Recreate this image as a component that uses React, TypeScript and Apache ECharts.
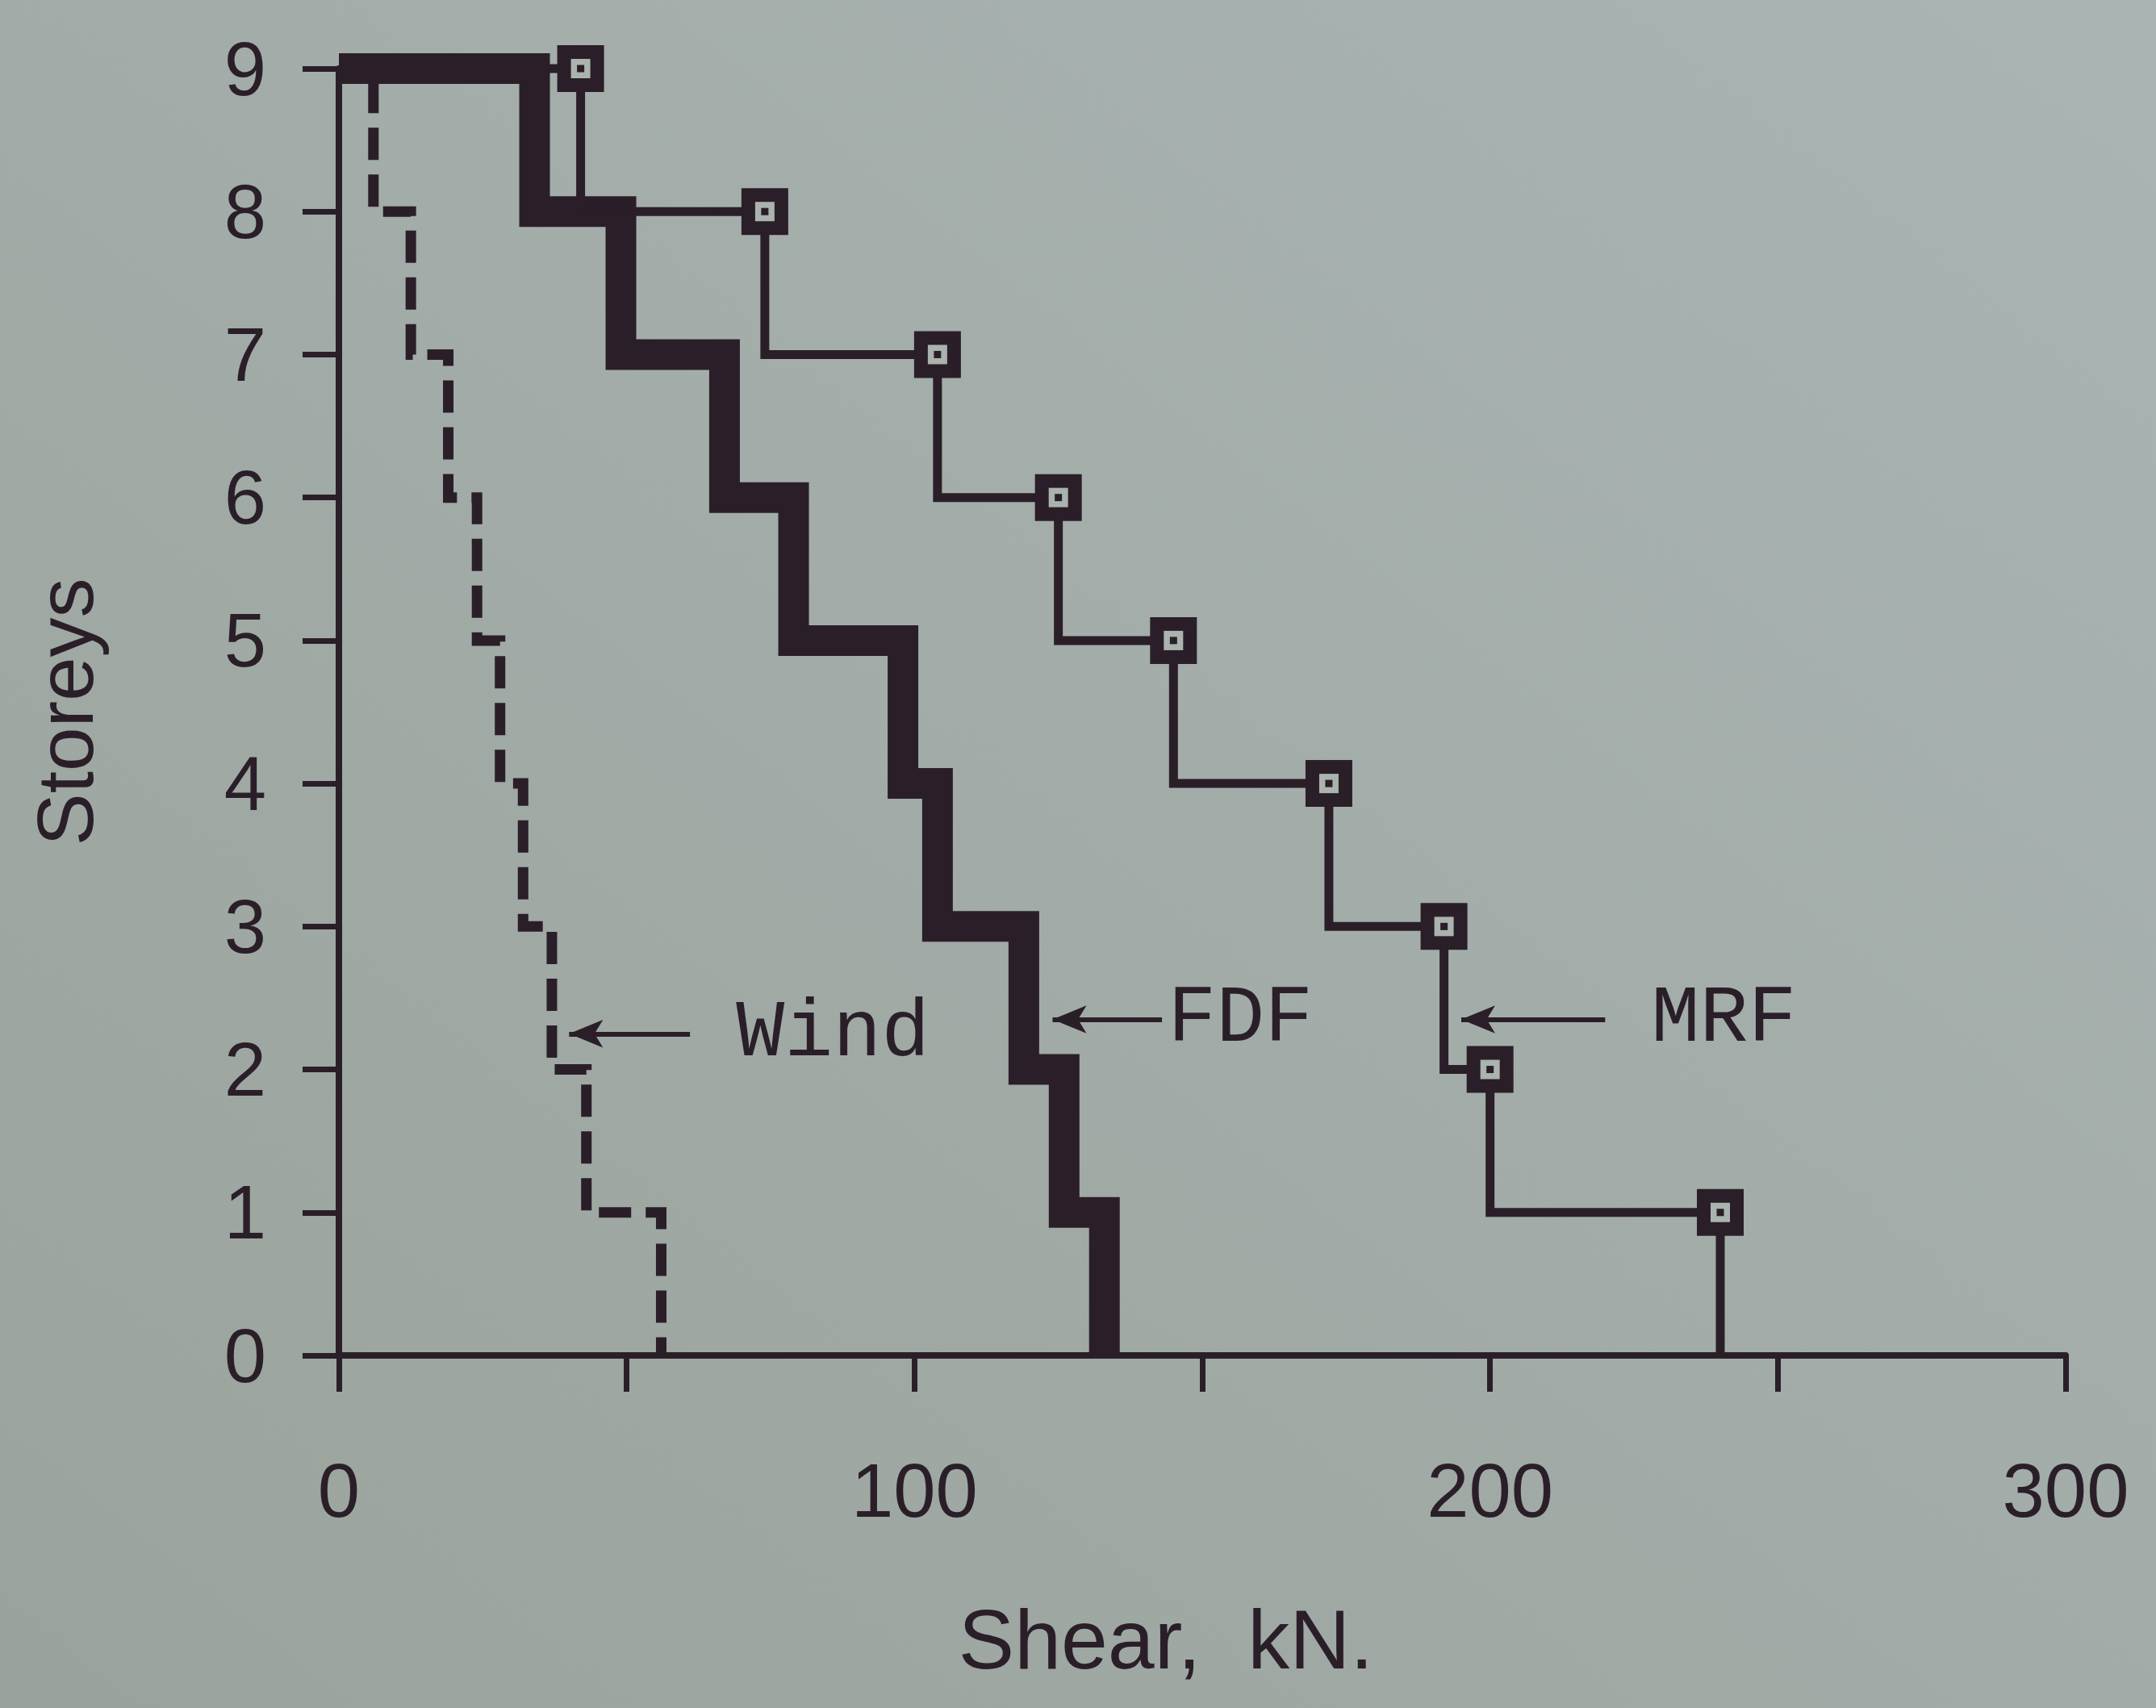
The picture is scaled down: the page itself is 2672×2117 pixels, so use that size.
import React, { useEffect, useRef } from 'react';
import * as echarts from 'echarts';

// ---- data ----
const storeys = [9, 8, 7, 6, 5, 4, 3, 2, 1];
const mrfShear = [42, 74, 104, 125, 145, 172, 192, 200, 240];
const fdfShear = [34, 49, 67, 79, 98, 104, 119, 126, 133];
const windShear = [6, 12.5, 19, 24, 28, 32, 37, 43, 56];
const xTickLabels = ['0', '100', '200', '300'];
const yTickLabels = ['0', '1', '2', '3', '4', '5', '6', '7', '8', '9'];
const annotationNames = ['Wind', 'FDF', 'MRF'];
const annotationLevels = [2.25, 2.35, 2.35];
const arrowTails = [61, 143, 220];
const arrowTips = [40, 124, 195];
const textStarts = [69, 144, 228];

const INK = '#2a1f29';
const PAPER = '#aab3ae';

function stepPoints(values: number[]): number[][] {
  const pts: number[][] = [[0, storeys[0]]];
  values.forEach((v, i) => {
    pts.push([v, storeys[i]]);
    pts.push([v, storeys[i] - 1]);
  });
  return pts;
}

const markerData = storeys.map((s, i) => [mrfShear[i], s]);

function markerLayer(name: string, size: number, color: string, z: number) {
  return {
    name,
    type: 'scatter',
    data: markerData,
    symbol: 'rect',
    symbolSize: size,
    clip: false,
    z,
    silent: true,
    itemStyle: { color, opacity: 1 },
  };
}

export default function App() {
  const ref = useRef<HTMLDivElement>(null);
  useEffect(() => {
    document.body.style.margin = '0';
    if (!ref.current) return;
    const chart = echarts.init(ref.current, null, { renderer: 'svg' });
    const option: any = {
      animation: false,
      backgroundColor: new echarts.graphic.LinearGradient(0, 1, 1, 0, [
        { offset: 0, color: '#9aa39b' },
        { offset: 1, color: '#aab4b4' },
      ]),
      grid: { left: 420, right: 112, top: 85, bottom: 437, containLabel: false },
      xAxis: {
        type: 'value',
        min: 0,
        max: 300,
        interval: 50,
        name: 'Shear,  kN.',
        nameLocation: 'middle',
        nameGap: 300,
        nameTextStyle: {
          fontFamily: 'Liberation Sans',
          fontSize: 104,
          color: INK,
          padding: [0, 90, 0, 0],
        },
        axisLine: { show: true, onZero: false, lineStyle: { color: INK, width: 8 } },
        axisTick: { show: true, length: 45, lineStyle: { color: INK, width: 7 } },
        axisLabel: {
          margin: 120,
          fontFamily: 'Liberation Sans',
          fontSize: 94,
          color: INK,
          formatter: (v: number) => (xTickLabels.includes(String(v)) ? String(v) : ''),
        },
        splitLine: { show: false },
      },
      yAxis: {
        type: 'value',
        min: 0,
        max: 9,
        interval: 1,
        name: 'Storeys',
        nameLocation: 'middle',
        nameGap: 290,
        nameRotate: 90,
        nameTextStyle: { fontFamily: 'Liberation Sans', fontSize: 98, color: INK },
        axisLine: { show: true, onZero: false, lineStyle: { color: INK, width: 8 } },
        axisTick: { show: true, length: 45, lineStyle: { color: INK, width: 7 } },
        axisLabel: {
          margin: 90,
          fontFamily: 'Liberation Sans',
          fontSize: 94,
          color: INK,
          formatter: (v: number) => yTickLabels[v] ?? '',
        },
        splitLine: { show: false },
      },
      series: [
        {
          name: 'Wind',
          type: 'line',
          data: stepPoints(windShear),
          symbol: 'none',
          clip: false,
          z: 3,
          lineStyle: { color: INK, width: 13, type: [40, 18], cap: 'butt', join: 'miter' },
        },
        {
          name: 'FDF',
          type: 'line',
          data: stepPoints(fdfShear),
          symbol: 'none',
          clip: false,
          z: 4,
          lineStyle: { color: INK, width: 38, cap: 'butt', join: 'miter' },
        },
        {
          name: 'MRF',
          type: 'line',
          data: stepPoints(mrfShear),
          symbol: 'none',
          clip: false,
          z: 5,
          lineStyle: { color: INK, width: 11, cap: 'butt', join: 'miter' },
        },
        markerLayer('MRF markers', 58, INK, 6),
        markerLayer('MRF marker holes', 24, PAPER, 7),
        markerLayer('MRF marker dots', 9, INK, 8),
        {
          name: 'Labels',
          type: 'scatter',
          data: annotationNames.map((n, i) => [textStarts[i], annotationLevels[i], n]),
          symbolSize: 0,
          clip: false,
          z: 9,
          itemStyle: { color: INK, opacity: 1 },
          label: {
            show: true,
            position: 'right',
            distance: 0,
            formatter: (p: any) => p.value[2],
            fontFamily: 'Liberation Mono',
            fontSize: 100,
            color: INK,
            opacity: 1,
          },
          markLine: {
            silent: true,
            symbol: ['none', 'arrow'],
            symbolSize: [26, 42],
            label: { show: false },
            lineStyle: { color: INK, width: 6, type: 'solid', opacity: 1 },
            itemStyle: { color: INK, opacity: 1 },
            data: annotationNames.map((_, i) => [
              { coord: [arrowTails[i], annotationLevels[i]] },
              { coord: [arrowTips[i], annotationLevels[i]] },
            ]),
          },
        },
      ],
    };
    chart.setOption(option);
    return () => chart.dispose();
  }, []);
  return <div ref={ref} style={{ width: 2672, height: 2117, background: '#a2aba6' }} />;
}
